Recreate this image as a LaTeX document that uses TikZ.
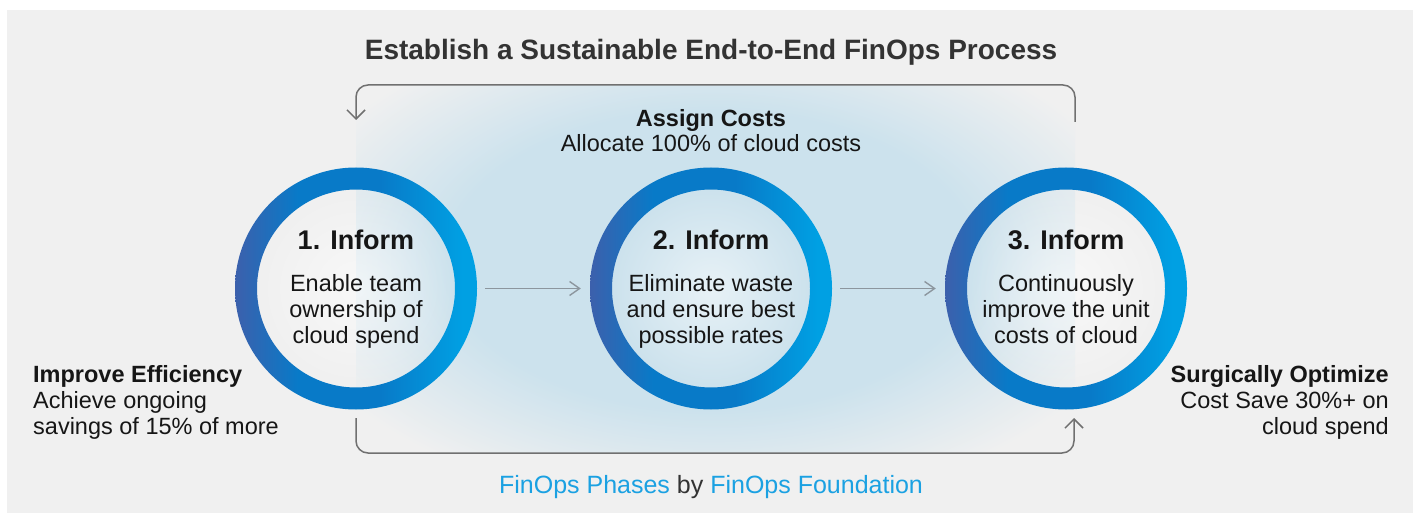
\documentclass[tikz,border=0pt]{standalone}
\usepackage{fontspec}
\setmainfont{Liberation Sans}
\usetikzlibrary{arrows.meta,fadings,positioning}

\definecolor{bggray}{RGB}{240,240,240}
\definecolor{glowblue}{RGB}{204,226,237}
\definecolor{ringleft}{RGB}{60,96,172}
\definecolor{ringmid}{RGB}{8,122,200}
\definecolor{ringright}{RGB}{0,160,227}
\definecolor{inktext}{RGB}{22,22,22}
\definecolor{titlegray}{RGB}{51,51,51}
\definecolor{loopgray}{RGB}{112,112,112}
\definecolor{stepgray}{RGB}{140,150,158}
\definecolor{linkblue}{RGB}{27,161,226}

\pgfdeclareradialshading{glowshade}{\pgfpoint{0bp}{0bp}}{color(0bp)=(glowblue); color(15bp)=(glowblue); color(25bp)=(bggray); color(50bp)=(bggray)}
\pgfdeclarehorizontalshading{ringshade}{100bp}{color(0bp)=(ringleft); color(25bp)=(ringleft); color(38bp)=(ringmid); color(55bp)=(ringmid); color(72bp)=(ringright); color(100bp)=(ringright)}
\tikzfading[name=innerfade, inner color=transparent!0, outer color=transparent!100]

\tikzset{
  phase/.style={circle, minimum size=242pt, inner sep=0pt},
  phasehead/.style={anchor=base, inner sep=0pt, text=inktext, font=\bfseries\fontsize{27}{30}\selectfont},
  phasebody/.style={anchor=base, inner sep=0pt, align=center, text=inktext, font=\fontsize{23.5}{26}\selectfont},
  sidehead/.style={inner sep=0pt, text=inktext, font=\bfseries\fontsize{23.5}{26}\selectfont},
  sidebody/.style={inner sep=0pt, text=inktext, font=\fontsize{23.5}{26}\selectfont},
  looplink/.style={draw=loopgray, line width=1.5pt, rounded corners=12pt, -{Straight Barb[length=9pt,width=18pt]}},
  steplink/.style={draw=stepgray, line width=1.4pt, -{Straight Barb[length=10pt,width=14pt]}}
}

\begin{document}
\begin{tikzpicture}[x=1pt, y=-1pt]
  \useasboundingbox (0,0) rectangle (1419,513);
  \fill[white] (0,0) rectangle (1419,513);
  \fill[bggray] (7,10) rectangle (1413,513);

  % glow behind the loop
  \begin{scope}
    \clip (356,85) rectangle (1075,453);
    \shade[shading=glowshade] (711,260) ellipse (440 and 250);
  \end{scope}

  \node[phase] (c1) at (356,288.5) {};
  \node[phase] (c2) at (711,288.5) {};
  \node[phase] (c3) at (1066,288.5) {};

  \foreach \c in {c1,c2,c3} {
    \fill[white, path fading=innerfade, fill opacity=0.55] (\c.center) circle (100);
    \shade[shading=ringshade, even odd rule]
      (\c.center) circle (121) (\c.center) circle (99);
  }

  \node[anchor=base, inner sep=0pt, text=titlegray, font=\bfseries\fontsize{28}{32}\selectfont] (title) at (711,60) {Establish a Sustainable End-to-End FinOps Process};

  \node[sidehead, anchor=base] (assign) at (711,127) {Assign Costs};
  \node[sidebody, anchor=base] (allocate) at (711,152) {Allocate 100\% of cloud costs};

  \node[phasehead] (h1) at (356,250) {1. Inform};
  \node[phasehead] (h2) at (711,250) {2. Inform};
  \node[phasehead] (h3) at (1066,250) {3. Inform};
  % base of a wrapped node is its last line
  \node[phasebody] (b1) at (356,343) {Enable team\\ownership of\\cloud spend};
  \node[phasebody] (b2) at (711,343) {Eliminate waste\\and ensure best\\possible rates};
  \node[phasebody] (b3) at (1066,343) {Continuously\\improve the unit\\costs of cloud};

  \node[sidehead, anchor=base west] (effhead) at (33,382) {Improve Efficiency};
  \node[sidebody, anchor=base west, align=left] (effbody) at (33,434) {Achieve ongoing\\savings of 15\% of more};
  \node[sidehead, anchor=base east] (opthead) at (1389,382) {Surgically Optimize};
  \node[sidebody, anchor=base east, align=right] (optbody) at (1389,434) {Cost Save 30\%+ on\\cloud spend};

  \node[anchor=base, inner sep=0pt, font=\fontsize{25}{28}\selectfont] (credit) at (711,493)
    {\textcolor{linkblue}{FinOps Phases} \textcolor{titlegray}{by} \textcolor{linkblue}{FinOps Foundation}};

  \draw[steplink, shorten <=8pt, shorten >=9pt] (c1.east) -- (c2.west);
  \draw[steplink, shorten <=8pt, shorten >=9pt] (c2.east) -- (c3.west);

  \coordinate (tl) at (356,120);
  \coordinate (tr) at (1075,122);
  \coordinate (toprail) at (711,85);
  \coordinate (bl) at (356,418);
  \coordinate (br) at (1074,418);
  \coordinate (botrail) at (711,453);
  \draw[looplink] (tr) -- (tr |- toprail) -- (tl |- toprail) -- (tl);
  \draw[looplink] (bl) -- (bl |- botrail) -- (br |- botrail) -- (br);
\end{tikzpicture}
\end{document}
